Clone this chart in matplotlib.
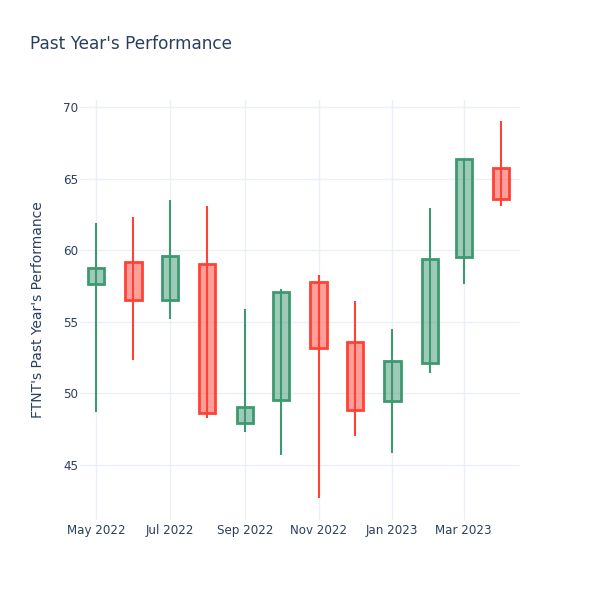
import matplotlib
matplotlib.use("Agg")
import matplotlib.pyplot as plt
import matplotlib.dates as mdates
import datetime as dt

# monthly OHLC
months = ["2022-05-01", "2022-06-01", "2022-07-01", "2022-08-01", "2022-09-01", "2022-10-01",
          "2022-11-01", "2022-12-01", "2023-01-01", "2023-02-01", "2023-03-01", "2023-04-01"]
opens = [57.66, 59.20, 56.52, 59.04, 47.95, 49.54, 57.80, 53.57, 49.47, 52.10, 59.50, 65.76]
highs = [61.88, 62.34, 63.50, 63.09, 55.87, 57.27, 58.25, 56.47, 54.50, 62.95, 66.46, 69.02]
lows = [48.72, 52.33, 55.17, 48.31, 47.33, 45.70, 42.67, 47.03, 45.86, 51.40, 57.62, 63.09]
closes = [58.78, 56.54, 59.62, 48.65, 49.07, 57.08, 53.15, 48.84, 52.26, 59.36, 66.37, 63.55]

txt = "#2a3f5f"
inc_line, inc_fill = "#3D9970", (0.239, 0.6, 0.439, 0.5)
dec_line, dec_fill = "#FF4136", (1.0, 0.255, 0.212, 0.5)

plt.rcParams['font.family'] = ['DejaVu Sans']

fig = plt.figure(figsize=(6, 6), dpi=100)
ax = fig.add_axes([80/600, 80/600, 440/600, 420/600])

x = [mdates.date2num(dt.datetime.strptime(m, "%Y-%m-%d")) for m in months]
w = 13.5
for xi, o, h, l, c in zip(x, opens, highs, lows, closes):
	up = c >= o
	lc = inc_line if up else dec_line
	fc = inc_fill if up else dec_fill
	ax.vlines(xi, l, h, color=lc, lw=1.5, zorder=2)
	ax.bar(xi, abs(c - o), bottom=min(o, c), width=w, facecolor=fc, edgecolor=lc, linewidth=2, zorder=3)

ax.set_ylim(41.16, 70.49)
ax.set_xlim(x[0] - 13.2, x[-1] + 15.5)
ax.set_yticks([45, 50, 55, 60, 65, 70])
ax.xaxis.set_major_locator(mdates.MonthLocator(bymonth=[1, 3, 5, 7, 9, 11]))
ax.xaxis.set_major_formatter(mdates.DateFormatter("%b %Y"))

ax.grid(True, color="#EBF0F8", lw=1, zorder=0)
ax.set_axisbelow(True)
for s in ax.spines.values(): s.set_visible(False)
ax.tick_params(axis='y', length=0, colors=txt, labelsize=8.6, pad=1)
ax.tick_params(axis='x', length=0, colors=txt, labelsize=8.6, pad=3)

ax.set_ylabel("FTNT's Past Year's Performance", fontsize=10, color=txt, labelpad=13)
fig.text(30/600, 1 - 44/600, "Past Year's Performance", fontsize=12.2, color=txt, va='center', ha='left')

fig.savefig("out.png", dpi=100)
